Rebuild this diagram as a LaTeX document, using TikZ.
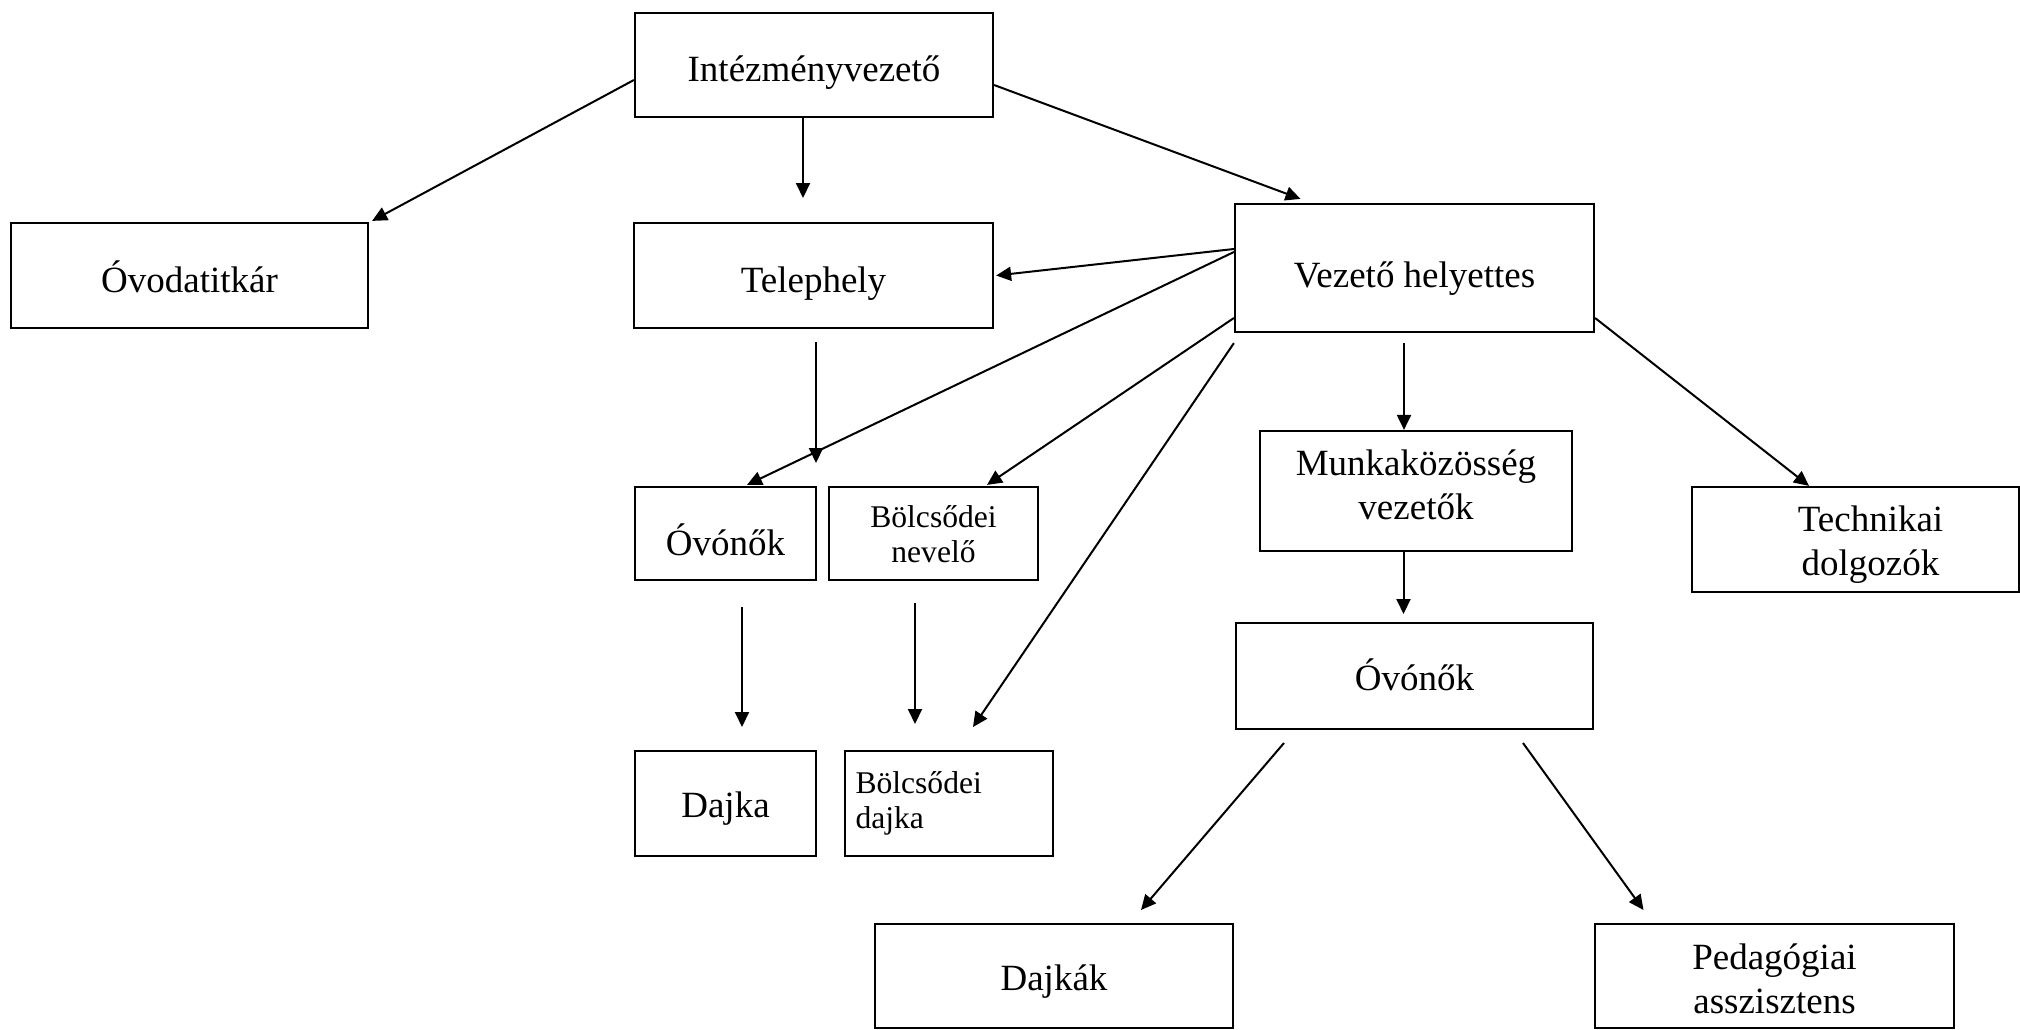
\documentclass[tikz,border=0pt]{standalone}
\usepackage{fontspec}
\setmainfont{Liberation Serif}
\usetikzlibrary{arrows.meta,calc}
\begin{document}
\begin{tikzpicture}[x=0.5pt,y=-0.5pt,
  box/.style={draw,line width=1.1pt,inner sep=0pt,align=center,font=\bigf},
  bl/.style={text height=#1pt,text depth=0pt},
  arr/.style={line width=1pt,-{Triangle[length=7.5pt,width=7pt]}},
]
\newcommand{\bigf}{\fontsize{18.5}{21.7}\selectfont}
\newcommand{\smallf}{\fontsize{15.8}{17.5}\selectfont}
\useasboundingbox (0,0) rectangle (2020,1029);
\clip (0,0) rectangle (2020,1029);
% nodes
\node[box,bl=16,minimum width=179pt,minimum height=52pt] (intv) at (814,65) {Intézményvezető};
\node[box,bl=16.5,minimum width=178.5pt,minimum height=52.5pt] (titk) at (189.5,275.5) {Óvodatitkár};
\node[box,bl=16.5,minimum width=179.5pt,minimum height=52.5pt] (tel) at (813.5,275.5) {Telephely};
\node[box,bl=19,minimum width=179.5pt,minimum height=64pt] (vhely) at (1414.5,268) {Vezető helyettes};
\node[box,bl=28,minimum width=156pt,minimum height=60pt] (munk) at (1416,491) {Munkaközösség\\vezetők};
\node[box,bl=35.5,minimum width=163.5pt,minimum height=52.5pt] (tech) at (1855.5,539.5) {\hspace*{15pt}Technikai\\\hspace*{15pt}dolgozók};
\node[box,bl=14,minimum width=178.5pt,minimum height=53pt] (ovo2) at (1414.5,676) {Óvónők};
\node[box,bl=37,minimum width=179.5pt,minimum height=52pt] (ped) at (1774.5,976) {Pedagógiai\\asszisztens};
\node[box,bl=14,minimum width=179pt,minimum height=52pt] (dajkak) at (1054,976) {Dajkák};
\node[box,bl=21.5,minimum width=90.5pt,minimum height=46.5pt] (ovo1) at (725.5,533.5) {Óvónők};
\node[box,bl=28.5,minimum width=104.5pt,minimum height=46.5pt,font=\smallf] (bnev) at (933.5,533.5) {Bölcsődei\\nevelő};
\node[box,bl=13.5,minimum width=90.5pt,minimum height=52.5pt] (dajka) at (725.5,803.5) {Dajka};
\node[box,minimum width=104pt,minimum height=52.5pt,font=\smallf,align=left,text width=93.5pt] (bdaj) at (949,803.5) {Bölcsődei\\dajka};
% free ends
\coordinate (c1) at (803,198);
\coordinate (c2) at (816,342);
\coordinate (c3) at (816,463);
\coordinate (c4) at (973,727);
\coordinate (c5) at (742,607);
\coordinate (c6) at (742,727);
\coordinate (c7) at (915,603);
\coordinate (c8) at (915,724);
\coordinate (c9) at (1403.5,614);
\coordinate (c10) at (1284,743);
\coordinate (c11) at (1141,910);
\coordinate (c12) at (1523,743);
\coordinate (c13) at (1643.5,910);
% connectors
\draw[arr] ($(intv.west)+(0,15)$) -- ($(titk.north east)+(3,-1)$);
\draw[arr] ($(intv.south)+(-11,0)$) -- (c1);
\draw[arr] ($(intv.east)+(0,20)$) -- ($(vhely.north)+(-114,-4)$);
\draw[arr] ($(vhely.west)+(0,-19)$) -- ($(tel.east)+(2,0)$);
\draw[arr] ($(vhely.west)+(0,-16)$) -- ($(ovo1.north)+(21.5,-1)$);
\draw[arr] (c2) -- (c3);
\draw[arr] ($(vhely.west)+(0,50)$) -- ($(bnev.north)+(53.5,-1)$);
\draw[arr] ($(vhely.south west)+(0,10)$) -- (c4);
\draw[arr] (c5) -- (c6);
\draw[arr] (c7) -- (c8);
\draw[arr] ($(vhely.south)+(-10.5,10)$) -- ($(munk.north)+(-12,0)$);
\draw[arr] ($(vhely.east)+(0,50)$) -- ($(tech.north)+(-46.5,0)$);
\draw[arr] ($(munk.south)+(-12.5,0)$) -- (c9);
\draw[arr] (c10) -- (c11);
\draw[arr] (c12) -- (c13);
\end{tikzpicture}
\end{document}
